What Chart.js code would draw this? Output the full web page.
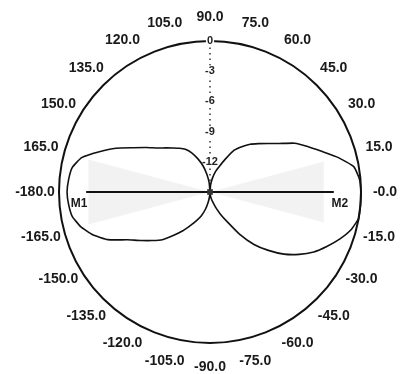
<!DOCTYPE html>
<html>
<head>
<meta charset="utf-8">
<script src="https://cdn.jsdelivr.net/npm/chart.js"></script>
<style>
  html, body { margin: 0; padding: 0; background: #fff; }
  #wrap { width: 401px; height: 374px; }
</style>
</head>
<body>
<div id="wrap"><canvas id="c" width="401" height="374"></canvas></div>
<script>
// Angles (degrees), clockwise from top
const angles = [90,85,80,75,70,65,60,55,50,45,40,35,30,25,20,15,10,5,0,
  -5,-10,-15,-20,-25,-30,-35,-40,-45,-50,-55,-60,-65,-70,-75,-80,-85,-90,
  -95,-100,-105,-110,-115,-120,-125,-130,-135,-140,-145,-150,-155,-160,-165,-170,-175,180,
  175,170,165,160,155,150,145,140,135,130,125,120,115,110,105,100,95];

// Angle tick labels every 15 degrees, clockwise from top
const angleLabels = ['90.0','75.0','60.0','45.0','30.0','15.0','-0.0','-15.0','-30.0','-45.0','-60.0','-75.0',
  '-90.0','-105.0','-120.0','-135.0','-150.0','-165.0','-180.0','165.0','150.0','135.0','120.0','105.0'];

// Radial ticks (dB)
const radialTicks = [-15,-12,-9,-6,-3,0];

// Radiation pattern (dB)
const pattern = [-15,-14.3,-13.6,-12.9,-12.3,-11.4,-10.2,-9.5,-8.8,-8.2,-7.5,-6.6,-5.3,-4.3,-3.2,-1.8,-0.5,-0.1,0,
  0,0,-0.5,-1.3,-2.2,-3.1,-4.2,-5.4,-6.8,-8.2,-9.9,-11.6,-12.6,-13.4,-14.0,-14.4,-14.7,-15,
  -14.6,-14.0,-13.2,-12.5,-11.9,-11.2,-10.3,-9.4,-8.3,-7.5,-6.6,-5.5,-3.8,-2.6,-1.7,-1.1,-0.9,-0.8,
  -0.9,-1.1,-1.8,-3.3,-4.7,-6.2,-7.3,-8.2,-8.8,-9.3,-9.7,-10.1,-10.7,-11.5,-12.3,-13.2,-14.1];

// Marker line M1 (180 deg) to M2 (0 deg)
const markerAngles = [0, 180];
const markerValues = [-2.7, -2.7];
const markerNames = ['M2', 'M1'];

// Light shaded bowtie region
const shadeAngles = [90, 15, -15, -90, -165, 165];
const shadeValues = [-15, -3.3, -3.3, -15, -2.5, -2.5];

function sparse(angs, vals) {
  const arr = angles.map(() => null);
  angs.forEach((a, i) => { arr[angles.indexOf(a)] = vals[i]; });
  return arr;
}

const labelPlugin = {
  id: 'polarLabels',
  afterDraw(chart) {
    const scale = chart.scales.r;
    const ctx = chart.ctx;
    ctx.save();
    ctx.fillStyle = '#1a1a1a';
    ctx.font = 'bold 14px "Liberation Sans", Arial, sans-serif';
    ctx.textAlign = 'center';
    ctx.textBaseline = 'middle';
    const dist = scale.drawingArea + 24;
    angleLabels.forEach((t, k) => {
      const p = scale.getPointPosition(k * 3, dist);
      ctx.fillText(t, p.x, p.y);
    });
    // marker names
    ctx.font = 'bold 12px "Liberation Sans", Arial, sans-serif';
    markerAngles.forEach((a, i) => {
      const idx = angles.indexOf(a);
      const p = scale.getPointPositionForValue(idx, markerValues[i]);
      const dx = a === 180 ? -7 : 6;
      ctx.fillText(markerNames[i], p.x + dx, p.y + 12);
    });
    ctx.restore();
  }
};

new Chart(document.getElementById('c'), {
  type: 'radar',
  data: {
    labels: angles.map(a => String(a)),
    datasets: [
      {
        label: 'Center',
        data: sparse([90], [-15]),
        borderWidth: 0,
        pointRadius: 4,
        pointStyle: 'rect',
        pointBackgroundColor: '#333',
        pointBorderColor: '#333',
        showLine: false,
        order: 0
      },
      {
        label: 'Markers',
        data: sparse(markerAngles, markerValues),
        spanGaps: true,
        borderColor: '#111',
        borderWidth: 2.2,
        pointRadius: 0,
        fill: false,
        order: 1
      },
      {
        label: 'Pattern',
        data: pattern,
        borderColor: '#111',
        borderWidth: 1.6,
        pointRadius: 0,
        tension: 0.15,
        fill: false,
        order: 2
      },
      {
        label: 'Shade',
        data: sparse(shadeAngles, shadeValues),
        spanGaps: true,
        borderWidth: 0,
        borderColor: 'rgba(0,0,0,0)',
        backgroundColor: 'rgba(0,0,0,0.05)',
        pointRadius: 0,
        fill: 'start',
        order: 3
      }
    ]
  },
  options: {
    responsive: false,
    animation: false,
    layout: { padding: { left: 53, right: 34, top: 35, bottom: 25 } },
    plugins: { legend: { display: false }, tooltip: { enabled: false } },
    scales: {
      r: {
        min: -15,
        max: 0,
        afterBuildTicks(scale) { scale.ticks = radialTicks.map(v => ({ value: v })); },
        ticks: {
          stepSize: 3,
          color: '#222',
          font: { size: 11, weight: 'bold', family: '"Liberation Sans", Arial, sans-serif' },
          showLabelBackdrop: true,
          backdropColor: '#fff',
          backdropPadding: { x: 1, y: 0 },
          callback: v => (v === -15 ? '' : String(v))
        },
        grid: {
          circular: true,
          color: c => (c.tick && c.tick.value === 0 ? '#111' : 'rgba(0,0,0,0)'),
          lineWidth: c => (c.tick && c.tick.value === 0 ? 2 : 0)
        },
        angleLines: {
          display: true,
          color: c => (c.index === 0 ? '#333' : 'rgba(0,0,0,0)'),
          lineWidth: c => (c.index === 0 ? 1.5 : 0),
          borderDash: [1.5, 4]
        },
        pointLabels: { display: false }
      }
    }
  },
  plugins: [labelPlugin]
});
</script>
</body>
</html>
